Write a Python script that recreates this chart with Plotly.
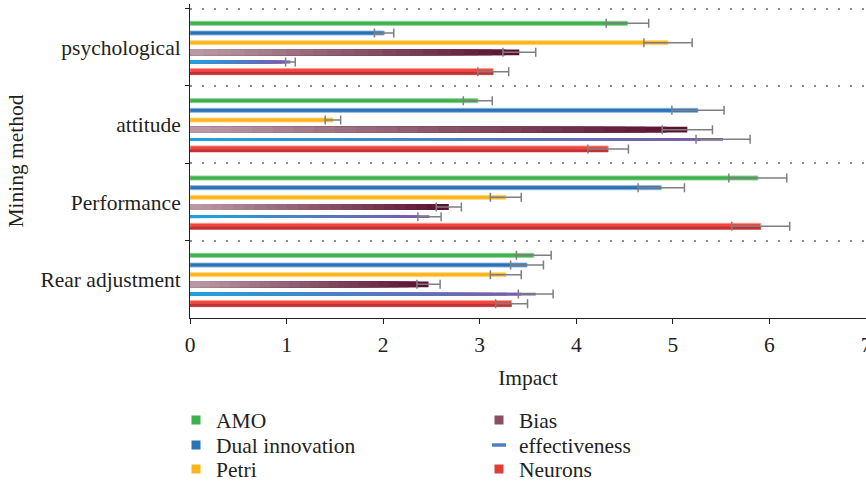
import plotly.graph_objects as go

categories = ["psychological", "attitude", "Performance", "Rear adjustment"]

amo = [4.53, 2.98, 5.88, 3.56]
amo_err = [0.22, 0.15, 0.30, 0.18]
dual = [2.01, 5.26, 4.88, 3.49]
dual_err = [0.10, 0.27, 0.24, 0.17]
petri = [4.95, 1.48, 3.27, 3.27]
petri_err = [0.25, 0.08, 0.16, 0.16]
bias = [3.41, 5.15, 2.68, 2.47]
bias_err = [0.17, 0.26, 0.13, 0.12]
eff = [1.04, 5.52, 2.48, 3.58]
eff_err = [0.05, 0.28, 0.12, 0.18]
neurons = [3.14, 4.33, 5.91, 3.33]
neurons_err = [0.16, 0.21, 0.30, 0.165]

FONT = "Liberation Serif"
FS = 21.5
TXT = "#231f20"

fig = go.Figure()


def hex2rgb(h):
    h = h.lstrip("#")
    return tuple(int(h[i:i + 2], 16) for i in (0, 2, 4))


def mix(c1, c2, t):
    a, b = hex2rgb(c1), hex2rgb(c2)
    return "rgb(%d,%d,%d)" % tuple(round(a[i] + (b[i] - a[i]) * t) for i in range(3))


def solid(vals, center, width, color, halo):
    fig.add_trace(go.Bar(
        y=categories, x=vals, orientation="h", offset=center - width / 2, width=width,
        marker=dict(color=color, line=dict(color=halo, width=1)),
        showlegend=False, hoverinfo="skip"))


def gradient(vals, center, width, c_left, c_right, n=24):
    for k in range(n):
        frac = 1 - k / n
        fig.add_trace(go.Bar(
            y=categories, x=[v * frac for v in vals], orientation="h",
            offset=center - width / 2, width=width,
            marker=dict(color=mix(c_right, c_left, k / (n - 1)), line=dict(width=0)),
            showlegend=False, hoverinfo="skip"))


# centers / thicknesses (category units)
C = [-0.31, -0.185, -0.06, 0.065, 0.19, 0.315]

solid(amo, C[0], 0.052, "#3cb24b", "rgba(140,205,145,0.9)")
solid(dual, C[1], 0.052, "#2a72b8", "rgba(140,178,220,0.9)")
solid(petri, C[2], 0.052, "#fbb519", "rgba(253,215,130,0.9)")
gradient(bias, C[3], 0.076, "#b99aa4", "#5a1130")
gradient(eff, C[4], 0.036, "#1ea2de", "#7b5aa8")
# Neurons: bright red with darker lower half
solid(neurons, C[5], 0.08, "#ee463c", "rgba(245,160,150,0.9)")
fig.add_trace(go.Bar(
    y=categories, x=neurons, orientation="h", offset=C[5] + 0.005, width=0.035,
    marker=dict(color="#bf3038", line=dict(width=0)), showlegend=False, hoverinfo="skip"))

# error bars on top
for vals, errs, c, w in [(amo, amo_err, C[0], 0.052), (dual, dual_err, C[1], 0.052),
                         (petri, petri_err, C[2], 0.052), (bias, bias_err, C[3], 0.076),
                         (eff, eff_err, C[4], 0.036), (neurons, neurons_err, C[5], 0.08)]:
    fig.add_trace(go.Bar(
        y=categories, x=vals, orientation="h", offset=c - w / 2, width=w,
        marker=dict(color="rgba(0,0,0,0)", line=dict(width=0)),
        error_x=dict(type="data", array=errs, visible=True, color="#7f7f7f",
                     thickness=1.5, width=4.5),
        showlegend=False, hoverinfo="skip"))

# legend entries
legend_items = [
    ("AMO", "#3cb24b", "square", "legend"),
    ("Dual innovation", "#2a72b8", "square", "legend2"),
    ("Petri", "#fbb519", "square", "legend3"),
    ("Bias", "#8a4d62", "square", "legend4"),
    ("effectiveness", "#4f7fc6", "line-ew-open", "legend5"),
    ("Neurons", "#de3e38", "square", "legend6"),
]
for name, col, sym, lg in legend_items:
    if sym == "square":
        mk = dict(symbol="square", size=9, color=col, line=dict(width=0))
    else:
        mk = dict(symbol=sym, size=10, color=col, line=dict(width=3.5, color=col))
    fig.add_trace(go.Scatter(x=[None], y=[None], mode="markers", name=name,
                             marker=mk, legend=lg, hoverinfo="skip"))

PLOT_BOTTOM = 318
PLOT_H = 314


def py(p):
    return (PLOT_BOTTOM - p) / PLOT_H


def px(p):
    return (p - 190) / 676


legend_pos = {
    "legend": (px(176), py(420)),
    "legend2": (px(176), py(445)),
    "legend3": (px(176), py(469)),
    "legend4": (px(479), py(420)),
    "legend5": (px(479), py(445)),
    "legend6": (px(479), py(469)),
}
layout_legends = {}
for k, (lx, ly) in legend_pos.items():
    layout_legends[k] = dict(x=lx, y=ly, xanchor="left", yanchor="middle",
                             bgcolor="rgba(0,0,0,0)", borderwidth=0,
                             font=dict(family=FONT, size=FS, color=TXT))

fig.update_layout(
    width=866, height=485,
    margin=dict(l=190, r=0, t=4, b=167, autoexpand=False),
    paper_bgcolor="white", plot_bgcolor="white",
    barmode="overlay",
    font=dict(family=FONT, size=FS, color=TXT),
    **layout_legends,
)

fig.update_xaxes(
    range=[0, 7], dtick=1, tick0=0, showgrid=False, zeroline=False,
    showline=True, linecolor=TXT, linewidth=1,
    ticks="outside", ticklen=5, tickcolor=TXT,
    tickfont=dict(family=FONT, size=FS, color=TXT),
    ticklabeloverflow="allow", ticklabelstandoff=2,
    title=dict(text="Impact", font=dict(family=FONT, size=FS, color=TXT), standoff=14),
    automargin=False,
)
fig.update_yaxes(
    type="category", categoryorder="array", categoryarray=categories,
    range=[3.5, -0.56], tickson="boundaries",
    showline=True, linecolor=TXT, linewidth=1,
    ticks="outside", ticklen=4, tickcolor=TXT, ticklabelstandoff=4,
    showgrid=True, gridcolor="#8c8c8c", gridwidth=1.5, griddash="2px,10px",
    tickfont=dict(family=FONT, size=FS, color=TXT),
    title=dict(text="Mining method", font=dict(family=FONT, size=FS, color=TXT), standoff=10),
    automargin=False,
)

fig.write_html("out.html")
